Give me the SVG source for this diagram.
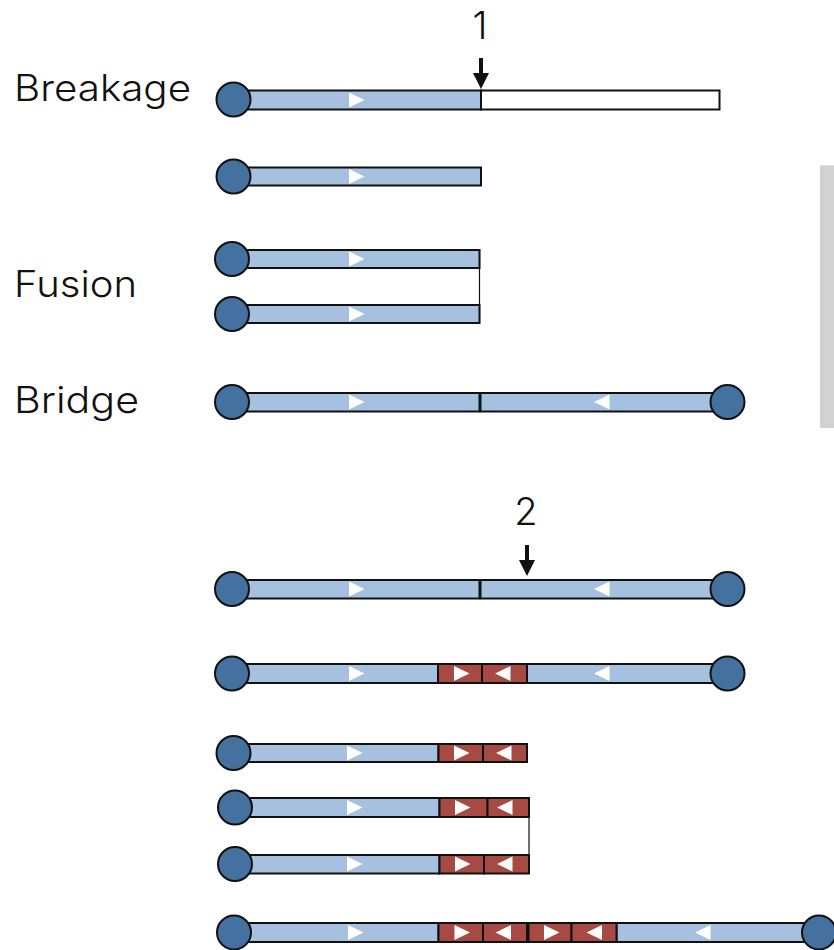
<svg xmlns="http://www.w3.org/2000/svg" width="834" height="950" viewBox="0 0 834 950">
  <style>
    .label { font-family: Inter, Lato, "Noto Sans", "Liberation Sans", sans-serif; font-weight: 350; font-size: 37px; fill: #111; }
    .num { font-family: Inter, Lato, "Noto Sans", "Liberation Sans", sans-serif; font-weight: 350; font-size: 38px; fill: #111; text-anchor: middle; }
    .arm { fill: #a6c1df; stroke: #111; stroke-width: 2; }
    .lost { fill: #ffffff; stroke: #111; stroke-width: 2; }
    .dup { fill: #a64a43; stroke: #111; stroke-width: 2; }
    .cen { fill: #44719f; stroke: #111; stroke-width: 2; }
    .tri { fill: #ffffff; }
    .join { stroke: #111; stroke-width: 1.2; fill: none; }
    .brk { fill: #111; }
  </style>
  <defs>
    <!-- orientation marks: 15 wide, 15 tall, anchored at left edge / vertical centre -->
    <path id="tR" d="M0,-7.5 L15.5,0 L0,7.5 Z"/>
    <path id="tL" d="M15.5,-7.5 L0,0 L15.5,7.5 Z"/>
    <!-- breakpoint arrow, tip at origin -->
    <path id="brkArrow" d="M-2,-31 L2,-31 L2,-16 L8,-16 L0,0 L-8,-16 L-2,-16 Z"/>
  </defs>

  <rect width="834" height="950" fill="#ffffff"/>

  <!-- side bar -->
  <rect x="820" y="165" width="14" height="263" fill="#d2d2d2"/>
  <rect x="820" y="165" width="14" height="1" fill="#e2e2e2"/>

  <!-- stage labels -->
  <text class="label" x="14" y="101" textLength="177" lengthAdjust="spacingAndGlyphs">Breakage</text>
  <text class="label" x="14" y="297" textLength="123" lengthAdjust="spacingAndGlyphs">Fusion</text>
  <text class="label" x="14" y="413" textLength="125" lengthAdjust="spacingAndGlyphs">Bridge</text>

  <!-- breakpoints -->
  <g id="break1">
    <text class="num" x="480" y="39">1</text>
    <use href="#brkArrow" class="brk" x="481" y="89"/>
  </g>
  <g id="break2">
    <text class="num" x="526" y="525">2</text>
    <use href="#brkArrow" class="brk" x="527" y="576"/>
  </g>

  <!-- fusion joins -->
  <g id="connectors">
    <line class="join" x1="479.5" y1="250" x2="479.5" y2="323.5"/>
    <line class="join" x1="529" y1="798" x2="529" y2="873.5"/>
  </g>

  <!-- chromosome with break, distal part lost -->
  <g id="chr-broken">
    <rect class="arm" x="233" y="90.5" width="248" height="19"/>
    <rect class="lost" x="481" y="90.5" width="238.5" height="19"/>
    <use href="#tR" class="tri" x="349" y="100"/>
    <circle class="cen" cx="233.5" cy="99.5" r="17"/>
  </g>

  <g id="chr-truncated">
    <rect class="arm" x="233" y="167.5" width="248" height="18"/>
    <use href="#tR" class="tri" x="349" y="176.5"/>
    <circle class="cen" cx="233.5" cy="176.5" r="17"/>
  </g>

  <!-- fused sister ends -->
  <g id="chr-fusion-a">
    <rect class="arm" x="232" y="250" width="247.5" height="18"/>
    <use href="#tR" class="tri" x="349" y="259"/>
    <circle class="cen" cx="232" cy="259" r="17"/>
  </g>
  <g id="chr-fusion-b">
    <rect class="arm" x="232" y="305" width="247.5" height="18"/>
    <use href="#tR" class="tri" x="349" y="314"/>
    <circle class="cen" cx="232" cy="314" r="17"/>
  </g>

  <!-- dicentric bridge -->
  <g id="chr-bridge">
    <rect class="arm" x="232" y="393" width="247.5" height="18.5"/>
    <rect class="arm" x="480.5" y="393" width="247" height="18.5"/>
    <use href="#tR" class="tri" x="349" y="402"/>
    <use href="#tL" class="tri" x="594" y="402"/>
    <circle class="cen" cx="232" cy="402" r="17"/>
    <circle class="cen" cx="727.5" cy="402" r="17"/>
  </g>

  <!-- second cycle -->
  <g id="chr-bridge-2">
    <rect class="arm" x="232" y="580" width="247.5" height="18.5"/>
    <rect class="arm" x="480.5" y="580" width="247" height="18.5"/>
    <use href="#tR" class="tri" x="349" y="589"/>
    <use href="#tL" class="tri" x="594" y="589"/>
    <circle class="cen" cx="232" cy="589" r="17"/>
    <circle class="cen" cx="727.5" cy="589" r="17"/>
  </g>

  <g id="chr-inverted-dup">
    <rect class="arm" x="232" y="664" width="206" height="19"/>
    <rect class="arm" x="527" y="664" width="200" height="19"/>
    <rect class="dup" x="438" y="664" width="44" height="19"/>
    <rect class="dup" x="482" y="664" width="45" height="19"/>
    <use href="#tR" class="tri" x="349" y="673.5"/>
    <use href="#tR" class="tri" x="454" y="673.5"/>
    <use href="#tL" class="tri" x="495" y="673.5"/>
    <use href="#tL" class="tri" x="594" y="673.5"/>
    <circle class="cen" cx="232" cy="673.5" r="17"/>
    <circle class="cen" cx="727.5" cy="673.5" r="17"/>
  </g>

  <g id="chr-dup-end">
    <rect class="arm" x="233" y="744" width="205.5" height="18"/>
    <rect class="dup" x="438.5" y="744" width="44.5" height="18"/>
    <rect class="dup" x="483" y="744" width="44" height="18"/>
    <use href="#tR" class="tri" x="347" y="753"/>
    <use href="#tR" class="tri" x="454" y="753"/>
    <use href="#tL" class="tri" x="496" y="753"/>
    <circle class="cen" cx="233.5" cy="753" r="17"/>
  </g>

  <g id="chr-dup-fusion-a">
    <rect class="arm" x="235" y="798" width="204.5" height="19"/>
    <rect class="dup" x="439.5" y="798" width="48" height="19"/>
    <rect class="dup" x="487.5" y="798" width="41.5" height="19"/>
    <use href="#tR" class="tri" x="347" y="807.5"/>
    <use href="#tR" class="tri" x="455" y="807.5"/>
    <use href="#tL" class="tri" x="497" y="807.5"/>
    <circle class="cen" cx="235" cy="807.5" r="17"/>
  </g>
  <g id="chr-dup-fusion-b">
    <rect class="arm" x="235" y="855" width="204.5" height="18.5"/>
    <rect class="dup" x="439.5" y="855" width="44.5" height="18.5"/>
    <rect class="dup" x="484" y="855" width="45" height="18.5"/>
    <use href="#tR" class="tri" x="347" y="864"/>
    <use href="#tR" class="tri" x="455" y="864"/>
    <use href="#tL" class="tri" x="497" y="864"/>
    <circle class="cen" cx="235" cy="864" r="17"/>
  </g>

  <g id="chr-bridge-3">
    <rect class="arm" x="234" y="923" width="204.5" height="19"/>
    <rect class="arm" x="616.5" y="923" width="202" height="19"/>
    <rect class="dup" x="438.5" y="923" width="44.5" height="19"/>
    <rect class="dup" x="483" y="923" width="44" height="19"/>
    <rect class="dup" x="528.5" y="923" width="43" height="19"/>
    <rect class="dup" x="571.5" y="923" width="45" height="19"/>
    <use href="#tR" class="tri" x="348" y="932.5"/>
    <use href="#tR" class="tri" x="454.5" y="932.5"/>
    <use href="#tL" class="tri" x="495.5" y="932.5"/>
    <use href="#tR" class="tri" x="544" y="932.5"/>
    <use href="#tL" class="tri" x="586.5" y="932.5"/>
    <use href="#tL" class="tri" x="695" y="932.5"/>
    <circle class="cen" cx="234" cy="932.5" r="17"/>
    <circle class="cen" cx="819" cy="932.5" r="17"/>
  </g>
</svg>
